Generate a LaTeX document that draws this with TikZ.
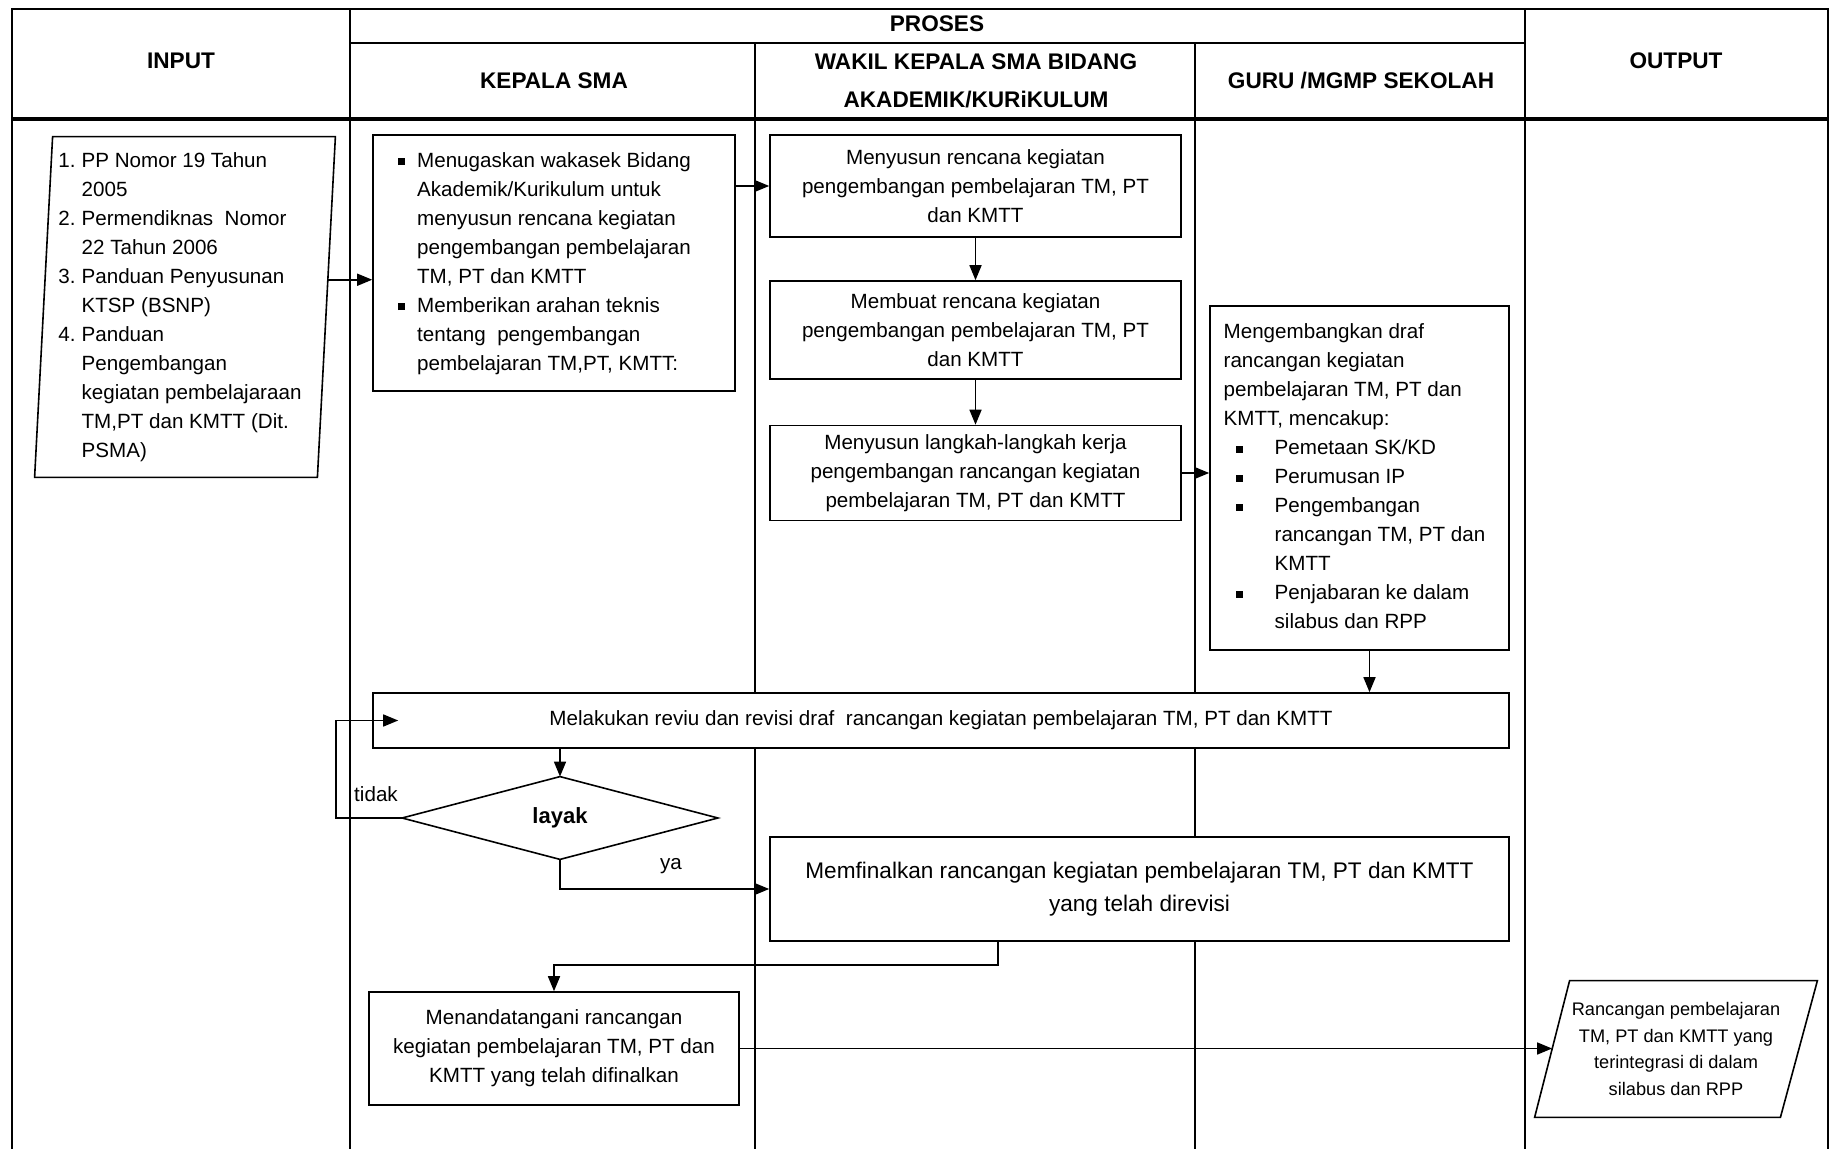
\documentclass[tikz,border=0pt]{standalone}
\usepackage{fontspec}
\setmainfont{Liberation Sans}
\usetikzlibrary{arrows.meta,calc}
\newcommand{\sqb}{\rule[0.2ex]{3.5pt}{3.5pt}}
\begin{document}
\begin{tikzpicture}[x=0.5pt,y=-0.5pt,
  body/.style={font=\fontsize{10.3}{14.5}\selectfont},
  box/.style={draw, fill=white, line width=0.8pt, inner sep=0pt, align=center, body},
  outline/.style={line width=0.8pt},
  arr/.style={-{Triangle[length=7.5pt,width=6pt]}, line width=0.8pt},
  grid/.style={line width=1.1pt},
  hdr/.style={font=\bfseries\fontsize{11.3}{18.7}\selectfont, align=center, inner sep=0pt},
]
\useasboundingbox (0,0) rectangle (1830,1149);

% table
\draw[grid] (12,1149) -- (12,9) -- (1828,9) -- (1828,1149);
\draw[grid] (350,9) -- (350,1149);
\draw[grid] (1525,9) -- (1525,1149);
\draw[grid] (350,43) -- (1525,43);
\draw[grid] (755,43) -- (755,1149);
\draw[grid] (1195,43) -- (1195,1149);
\draw[line width=2.2pt] (12,119) -- (1828,119);

% headers
\node[hdr] (hproses) at (937,24) {PROSES};
\node[hdr] (hinput) at (181,61) {INPUT};
\node[hdr] (hkepala) at (554,81) {KEPALA SMA};
\node[hdr] (hwakil) at (976,81) {WAKIL KEPALA SMA BIDANG\\AKADEMIK/KURiKULUM};
\node[hdr] (hguru) at (1361,81) {GURU /MGMP SEKOLAH};
\node[hdr] (houtput) at (1676,61) {OUTPUT};

% input
\node[inner sep=0pt, minimum width=150pt, minimum height=170pt, body] (inp) at (185,307)
{\begin{tabular}{@{}l@{\hspace{3pt}}l@{\hspace{5pt}}}
1. & PP Nomor 19 Tahun\\
   & 2005\\
2. & Permendiknas\ \ Nomor\\
   & 22 Tahun 2006\\
3. & Panduan Penyusunan\\
   & KTSP (BSNP)\\
4. & Panduan\\
   & Pengembangan\\
   & kegiatan pembelajaraan\\
   & TM,PT dan KMTT (Dit.\\
   & PSMA)
\end{tabular}};
\draw[outline] ($(inp.north west)+(18,0)$) -- (inp.north east) -- ($(inp.south east)+(-18,0)$) -- (inp.south west) -- cycle;
\path (inp.north east) -- ($(inp.south east)+(-18,0)$) coordinate[pos=0.42] (inpR);

% kepala
\node[box, minimum width=181pt, minimum height=128pt] (k1) at (554,263)
{\begin{tabular}{@{}l@{\hspace{6pt}}l@{\hspace{9.5pt}}}
\sqb & Menugaskan wakasek Bidang\\
     & Akademik/Kurikulum untuk\\
     & menyusun rencana kegiatan\\
     & pengembangan pembelajaran\\
     & TM, PT dan KMTT\\
\sqb & Memberikan arahan teknis\\
     & tentang\ \ pengembangan\\
     & pembelajaran TM,PT, KMTT:
\end{tabular}};

% wakil
\node[box, minimum width=205.5pt, minimum height=51pt] (w1) at (975.5,186)
{Menyusun rencana kegiatan\\pengembangan pembelajaran TM, PT\\dan KMTT};
\node[box, minimum width=205.5pt, minimum height=49pt] (w2) at (975.5,330)
{Membuat rencana kegiatan\\pengembangan pembelajaran TM, PT\\dan KMTT};
\node[box, minimum width=205.5pt, minimum height=47.5pt] (w3) at (975.5,473)
{Menyusun langkah-langkah kerja\\pengembangan rancangan kegiatan\\pembelajaran TM, PT dan KMTT};

% guru
\node[box, minimum width=149.5pt, minimum height=172pt] (g1) at (1359.5,478)
{\begin{tabular}{@{}l@{\hspace{16pt}}l@{\hspace{5pt}}}
\multicolumn{2}{@{}l@{}}{Mengembangkan draf}\\
\multicolumn{2}{@{}l@{}}{rancangan kegiatan}\\
\multicolumn{2}{@{}l@{}}{pembelajaran TM, PT dan}\\
\multicolumn{2}{@{}l@{}}{KMTT, mencakup:}\\
\hspace*{6pt}\sqb & Pemetaan SK/KD\\
\hspace*{6pt}\sqb & Perumusan IP\\
\hspace*{6pt}\sqb & Pengembangan\\
                  & rancangan TM, PT dan\\
                  & KMTT\\
\hspace*{6pt}\sqb & Penjabaran ke dalam\\
                  & silabus dan RPP
\end{tabular}};

% review
\node[box, minimum width=568pt, minimum height=27.5pt] (rev) at (941,720.5)
{Melakukan reviu dan revisi draf\ \ rancangan kegiatan pembelajaran TM, PT dan KMTT};

% decision
\node[inner sep=0pt, minimum width=157.5pt, minimum height=41pt, font=\bfseries\fontsize{11}{13}\selectfont] (dia) at (560,818) {layak};
\draw[outline] (dia.north) -- (dia.east) -- (dia.south) -- (dia.west) -- cycle;

% final
\node[box, minimum width=369.5pt, minimum height=52pt, font=\fontsize{11.3}{16.3}\selectfont] (fin) at (1139.5,889)
{Memfinalkan rancangan kegiatan pembelajaran TM, PT dan KMTT\\yang telah direvisi};

% sign
\node[box, minimum width=185pt, minimum height=56.5pt] (sign) at (554,1048.5)
{Menandatangani rancangan\\kegiatan pembelajaran TM, PT dan\\KMTT yang telah difinalkan};

% output
\node[inner sep=0pt, minimum width=141pt, minimum height=68pt, align=center, font=\fontsize{9.1}{13.2}\selectfont] (out) at (1676,1049)
{Rancangan pembelajaran\\TM, PT dan KMTT yang\\terintegrasi di dalam\\silabus dan RPP};
\draw[outline] ($(out.north west)+(35,0)$) -- (out.north east) -- ($(out.south east)+(-37,0)$) -- (out.south west) -- cycle;
\path ($(out.north west)+(35,0)$) -- (out.south west) coordinate[pos=0.5] (outL);

% labels
\node[body, inner sep=0pt] (tidak) at (376,794) {tidak};
\node[body, inner sep=0pt] (ya) at (671,866) {ya};

% connectors
\draw[arr] (inpR) -- (inpR -| k1.west);
\draw[arr] (k1.east |- w1.west) -- (w1.west);
\draw[arr] (w1.south) -- (w2.north);
\draw[arr] (w2.south) -- (w3.north);
\draw[arr] (w3.east) -- (w3.east -| g1.west);
\draw[arr] ([xshift=5pt]g1.south) -- ([xshift=5pt]g1.south |- rev.north);
\draw[arr] (dia.north |- rev.south) -- (dia.north);
\draw[arr] (dia.west) -- ++(-66,0) |- ([xshift=13pt]rev.west);
\draw[arr] (dia.south) |- (fin.west);
\draw[arr] ([xshift=-70.75pt]fin.south) -- ++(0,23) -| (sign.north);
\draw[arr] (sign.east) -- (sign.east -| outL);
\end{tikzpicture}
\end{document}
